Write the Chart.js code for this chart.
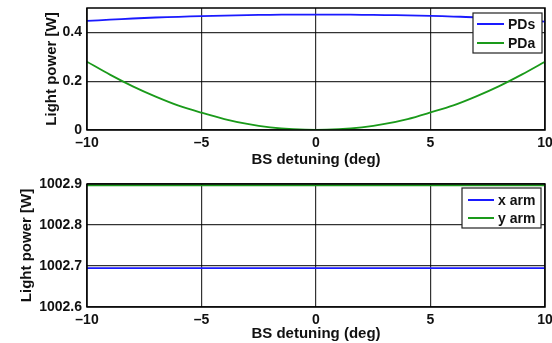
<!DOCTYPE html>
<html><head><meta charset="utf-8">
<script src="https://cdn.jsdelivr.net/npm/chart.js@4"></script>
<style>
html,body{margin:0;padding:0;background:#fff;width:552px;height:343px;overflow:hidden}
#c1{position:absolute;left:0;top:0}
#c2{position:absolute;left:0;top:170px}
</style></head><body>
<canvas id="c1" width="552" height="170"></canvas>
<canvas id="c2" width="552" height="173"></canvas>
<script>
const detuning = [-10,-9,-8,-7,-6,-5,-4,-3,-2,-1,0,1,2,3,4,5,6,7,8,9,10];
const PDs = [0.447,0.452,0.457,0.461,0.464,0.467,0.469,0.471,0.472,0.473,0.473,0.473,0.472,0.471,0.470,0.468,0.465,0.462,0.457,0.451,0.444];
const PDa = [0.280,0.227,0.179,0.137,0.100,0.071,0.045,0.025,0.011,0.003,0.000,0.003,0.011,0.025,0.045,0.072,0.101,0.138,0.180,0.228,0.280];
const xArm = [1002.695,1002.695,1002.695,1002.695,1002.695,1002.695,1002.695,1002.695,1002.695,1002.695,1002.695,1002.695,1002.695,1002.695,1002.695,1002.695,1002.695,1002.695,1002.695,1002.695,1002.695];
const yArm = [1002.897,1002.897,1002.897,1002.897,1002.897,1002.897,1002.897,1002.897,1002.897,1002.897,1002.897,1002.897,1002.897,1002.897,1002.897,1002.897,1002.897,1002.897,1002.897,1002.897,1002.897];
const xTicks = [-10,-5,0,5,10];
const topYTicks = [0,0.2,0.4];
const botYTicks = [1002.6,1002.7,1002.8,1002.9];
const topLegend = ['PDs','PDa'];
const botLegend = ['x arm','y arm'];
const xTitle = 'BS detuning (deg)';
const yTitle = 'Light power [W]';

const FONT = "'Liberation Sans', Arial, Helvetica, sans-serif";
const BLUE = '#1a1aff';
const GREEN = '#1a9a1a';

function pts(xs, ys){ return xs.map((x,i)=>({x:x,y:ys[i]})); }
function fmt(v){ return v < 0 ? '\u2013' + Math.abs(v) : String(v); }

const boxPlugin = {
  id:'boxLegend',
  afterDraw(chart, args, opts){
    const ctx = chart.ctx, a = chart.chartArea;
    ctx.save();
    ctx.strokeStyle = '#000'; ctx.lineWidth = 1.5;
    ctx.strokeRect(a.left, a.top, a.right - a.left, a.bottom - a.top);
    const L = opts.box;
    ctx.fillStyle = '#fff';
    ctx.fillRect(L.x, L.y, L.w, L.h);
    ctx.lineWidth = 1.2; ctx.strokeStyle = '#222';
    ctx.strokeRect(L.x, L.y, L.w, L.h);
    ctx.font = 'bold 14px ' + FONT;
    ctx.textBaseline = 'middle'; ctx.textAlign = 'left';
    chart.data.datasets.forEach((ds,i)=>{
      const yy = L.y + L.row0 + i*L.rowH;
      ctx.strokeStyle = ds.borderColor; ctx.lineWidth = 2;
      ctx.beginPath(); ctx.moveTo(L.x + L.l0, yy); ctx.lineTo(L.x + L.l1, yy); ctx.stroke();
      ctx.fillStyle = '#111';
      ctx.fillText(ds.label, L.x + L.tx, yy + 1);
    });
    ctx.restore();
  }
};

function makeChart(id, datasets, yMin, yMax, yTicks, layout, legendBox){
  return new Chart(document.getElementById(id), {
    type:'line',
    data:{datasets:datasets},
    options:{
      responsive:false, animation:false, devicePixelRatio:1,
      layout:{padding:{left:0,right:7,top:layout.top,bottom:0}},
      plugins:{legend:{display:false}, tooltip:{enabled:false}, boxLegend:{box:legendBox}},
      elements:{point:{radius:0}, line:{tension:0.3, borderWidth:1.8}},
      scales:{
        x:{type:'linear', min:-10, max:10,
          afterBuildTicks(s){ s.ticks = xTicks.map(v=>({value:v})); },
          afterFit(s){ s.height = layout.xh; s.paddingLeft = 0; s.paddingRight = 0; },
          grid:{color:'rgba(0,0,0,0.8)', lineWidth:1.2, drawTicks:false},
          border:{display:false},
          ticks:{padding:layout.tp, color:'#111', font:{family:FONT, size:14, weight:'bold'}, maxRotation:0, callback:v=>fmt(v)},
          title:{display:true, text:xTitle, color:'#111', font:{family:FONT, size:15, weight:'bold'}, padding:{top:0,bottom:layout.xtb}}
        },
        y:{type:'linear', min:yMin, max:yMax,
          afterBuildTicks(s){ s.ticks = yTicks.map(v=>({value:v})); },
          afterFit(s){ s.width = 87; s.paddingTop = 0; s.paddingBottom = 0; },
          grid:{color:'rgba(0,0,0,0.8)', lineWidth:1.2, drawTicks:false},
          border:{display:false},
          ticks:{padding:5, color:'#111', font:{family:FONT, size:14, weight:'bold'}, callback:v=>fmt(v)},
          title:{display:true, text:yTitle, color:'#111', font:{family:FONT, size:15, weight:'bold'}, padding:{top:layout.ytp,bottom:0}}
        }
      }
    },
    plugins:[boxPlugin]
  });
}

makeChart('c1', [
  {label:topLegend[0], data:pts(detuning,PDs), borderColor:BLUE, backgroundColor:BLUE},
  {label:topLegend[1], data:pts(detuning,PDa), borderColor:GREEN, backgroundColor:GREEN}
], 0, 0.5, topYTicks, {top:8, xh:40, tp:5, xtb:1, ytp:43},
 {x:473, y:13, w:69, h:40, row0:11, rowH:19, l0:4, l1:31, tx:35});

makeChart('c2', [
  {label:botLegend[0], data:pts(detuning,xArm), borderColor:BLUE, backgroundColor:BLUE},
  {label:botLegend[1], data:pts(detuning,yArm), borderColor:GREEN, backgroundColor:GREEN}
], 1002.6, 1002.9, botYTicks, {top:14, xh:36, tp:5, xtb:0, ytp:18},
 {x:462, y:18, w:79, h:40, row0:12, rowH:18, l0:6, l1:32, tx:36});
</script>
</body></html>
